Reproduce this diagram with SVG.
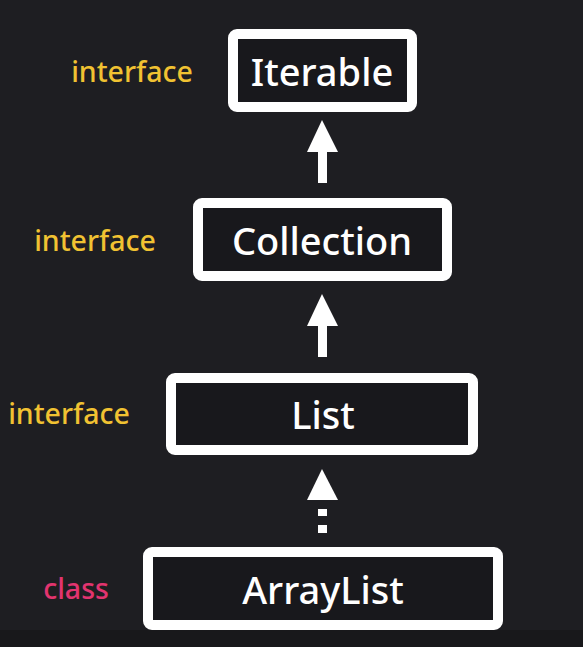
<svg xmlns="http://www.w3.org/2000/svg" width="583" height="647" viewBox="0 0 583 647">
<style>
.box{fill:#18181c;stroke:#ffffff;stroke-width:10}
.name{font-family:"Noto Sans","Open Sans",sans-serif;font-size:38px;font-weight:500;fill:#ffffff;text-anchor:middle;dominant-baseline:central}
.lab{font-family:"Noto Sans","Open Sans",sans-serif;font-size:28.5px;font-weight:500;text-anchor:middle;dominant-baseline:central}
.if{fill:#f1c232}
.cl{fill:#e2346f}
.arr{fill:#ffffff}
</style>
<rect width="583" height="647" fill="#1e1e22"/>
<rect y="630" width="583" height="17" fill="#18181b"/>
<g id="iterable">
<rect class="box" x="233" y="34" width="179" height="73" rx="4"/>
<text class="name" x="322" y="71">Iterable</text>
<text class="lab if" x="132" y="71">interface</text>
</g>
<g id="collection">
<rect class="box" x="198" y="203" width="249" height="73" rx="4"/>
<text class="name" x="322" y="240">Collection</text>
<text class="lab if" x="95" y="240">interface</text>
</g>
<g id="list">
<rect class="box" x="171" y="378" width="302" height="72" rx="4"/>
<text class="name" x="323" y="414">List</text>
<text class="lab if" x="69" y="413">interface</text>
</g>
<g id="arraylist">
<rect class="box" x="148" y="552" width="350" height="73" rx="4"/>
<text class="name" x="323" y="589">ArrayList</text>
<text class="lab cl" x="76" y="588">class</text>
</g>
<g id="connectors">
<path class="arr" d="M322 120 L338 152 L327 152 L327 183 L318 183 L318 152 L307 152 Z"/>
<path class="arr" d="M322 294 L338 326 L327 326 L327 357 L318 357 L318 326 L307 326 Z"/>
<path class="arr" d="M322 469 L338 500 L307 500 Z"/>
<rect class="arr" x="318" y="509" width="9" height="7"/>
<rect class="arr" x="318" y="525" width="9" height="8"/>
</g>
</svg>
